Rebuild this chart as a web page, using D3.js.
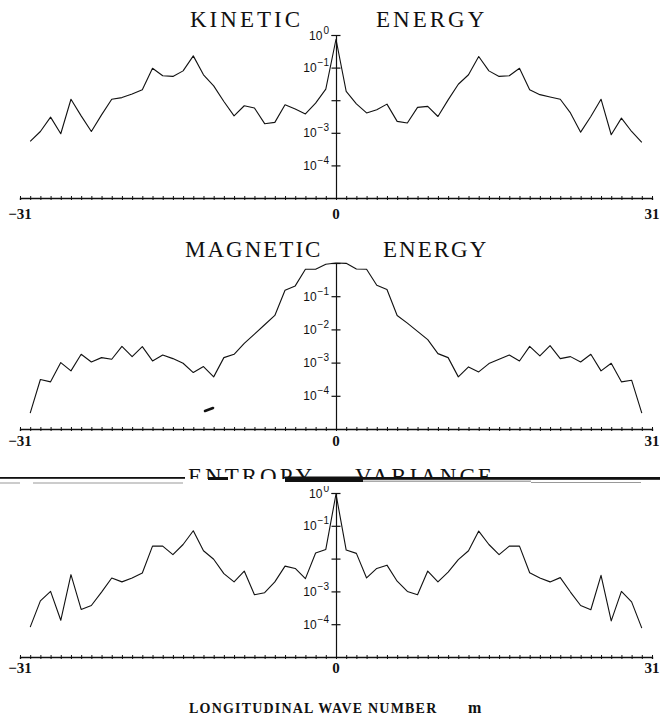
<!DOCTYPE html>
<html lang="en">
<head>
<meta charset="utf-8">
<title>Spectra vs longitudinal wave number</title>
<script src="https://cdn.jsdelivr.net/npm/d3@7"></script>
<style>
  body { margin: 0; background: #fff; }
  svg { display: block; }
</style>
</head>
<body>
<div id="chart"></div>
<script type="text/javascript">

// wave numbers m = -30 .. 30 (axis runs -31 .. 31)
var waveNumbers = d3.range(-30, 31);

// log10 of the spectral values, m = -30 .. 30
var kineticExp = [
  -3.26, -2.96, -2.52, -3.03, -1.97, -2.48, -2.96, -2.45, -1.97, -1.92,
  -1.81, -1.68, -1.02, -1.25, -1.27, -1.10, -0.64, -1.22, -1.56, -2.04,
  -2.48, -2.17, -2.24, -2.72, -2.68, -2.14, -2.27, -2.42, -2.09, -1.66,
  -0.13,
  -1.73, -2.11, -2.39, -2.29, -2.12, -2.65, -2.70, -2.22, -2.19, -2.50,
  -1.99, -1.51, -1.22, -0.66, -1.10, -1.27, -1.25, -1.02, -1.68, -1.83,
  -1.90, -1.97, -2.39, -2.98, -2.50, -1.97, -3.06, -2.55, -2.96, -3.29
];
var magneticExp = [
  -4.52, -3.51, -3.58, -3.00, -3.25, -2.75, -2.98, -2.85, -2.90, -2.51,
  -2.82, -2.52, -2.95, -2.77, -2.88, -3.02, -3.30, -3.12, -3.43, -2.85,
  -2.75, -2.42, -2.14, -1.86, -1.58, -0.82, -0.69, -0.19, -0.19, -0.04,
  0.00,
  -0.01, -0.18, -0.19, -0.67, -0.80, -1.58, -1.81, -2.06, -2.31, -2.73,
  -2.85, -3.43, -3.13, -3.28, -3.03, -2.90, -2.77, -2.95, -2.51, -2.80,
  -2.49, -2.88, -2.82, -2.98, -2.75, -3.25, -3.02, -3.58, -3.53, -4.52
];
var entropyExp = [
  -4.09, -3.29, -3.00, -3.88, -2.49, -3.55, -3.43, -3.02, -2.59, -2.71,
  -2.59, -2.44, -1.62, -1.62, -1.88, -1.57, -1.15, -1.76, -2.02, -2.46,
  -2.71, -2.38, -3.10, -3.04, -2.71, -2.23, -2.30, -2.61, -1.83, -1.72,
  -0.03,
  -1.74, -1.84, -2.59, -2.30, -2.20, -2.69, -3.00, -3.10, -2.38, -2.71,
  -2.41, -2.03, -1.76, -1.16, -1.57, -1.88, -1.62, -1.62, -2.43, -2.59,
  -2.71, -2.58, -3.02, -3.43, -3.56, -2.51, -3.90, -3.00, -3.32, -4.12
];

// titles and labelled decades for each panel
var panelTitles = [["KINETIC", "ENERGY"], ["MAGNETIC", "ENERGY"], ["ENTROPY", "VARIANCE"]];
var labelledExps = [[0, -1, -3, -4], [-1, -2, -3, -4], [0, -1, -3, -4]];
var decadeTicks = [1, 1e-1, 1e-2, 1e-3, 1e-4];
var xLabels = [-31, 0, 31];
var xAxisTitle = "LONGITUDINAL WAVE NUMBER";

//////////////////////////////////////
// layout
var width = 660, height = 721;
var layout = [
  { top: 35,  bottom: 198, titleY: 27,  titleX: [190, 376], labelDy: 21 },
  { top: 263, bottom: 429, titleY: 257, titleX: [185, 383], labelDy: 17 },
  { top: 493, bottom: 657, titleY: 484, titleX: [188, 355], labelDy: 16 }
];
var series = [kineticExp, magneticExp, entropyExp];

var svg = d3.select("#chart").append("svg")
    .attr("width", width).attr("height", height);
svg.append("rect").attr("width", width).attr("height", height).attr("fill", "#fff");

var x = d3.scaleLinear().domain([-31, 31]).range([20, 652]);

layout.forEach(function(p, i) {
  var g = svg.append("g");
  var y = d3.scaleLog().domain([1e-5, 1]).range([p.bottom, p.top]);

  // title words
  g.selectAll(".title").data(panelTitles[i]).enter().append("text")
      .attr("x", function(d, j) { return p.titleX[j]; })
      .attr("y", p.titleY)
      .attr("font-family", "Liberation Serif, Times New Roman, serif")
      .attr("font-size", 23)
      .attr("letter-spacing", i == 1 ? 2 : 3)
      .attr("fill", "#111")
      .text(function(d) { return d; });

  // x axis with a small cross tick at every integer m
  var xAxis = g.append("g")
      .attr("transform", "translate(0," + p.bottom + ")")
      .call(d3.axisBottom(x).tickValues(d3.range(-31, 32)).tickFormat("").tickSizeOuter(0).tickSize(2));
  xAxis.select(".domain").attr("stroke", "#111").attr("stroke-width", 1.4);
  xAxis.selectAll(".tick line").attr("y1", -2).attr("stroke", "#111").attr("stroke-width", 1);

  g.selectAll(".xlab").data(xLabels).enter().append("text")
      .attr("x", function(d) { return x(d); })
      .attr("y", p.bottom + p.labelDy)
      .attr("text-anchor", "middle")
      .attr("font-family", "Liberation Serif, Times New Roman, serif")
      .attr("font-weight", "bold")
      .attr("font-size", 15)
      .attr("fill", "#111")
      .text(function(d) { return d < 0 ? "\u2212" + Math.abs(d) : d; });

  // y axis through m = 0
  var yAxis = g.append("g")
      .attr("transform", "translate(" + x(0) + ",0)")
      .call(d3.axisLeft(y).tickValues(decadeTicks).tickFormat("").tickSizeOuter(0).tickSize(4.5));
  yAxis.select(".domain").attr("stroke", "#111").attr("stroke-width", 1.2);
  yAxis.selectAll(".tick line").attr("x1", 4.5).attr("stroke", "#111").attr("stroke-width", 1.2);

  var lab = g.selectAll(".ylab").data(labelledExps[i]).enter().append("text")
      .attr("x", x(0) - 7)
      .attr("y", function(d) { return y(Math.pow(10, d)) + 4.5; })
      .attr("text-anchor", "end")
      .attr("font-family", "Liberation Sans, Arial, sans-serif")
      .attr("font-size", 12)
      .attr("fill", "#111");
  lab.append("tspan").text("10");
  lab.append("tspan")
      .attr("dx", 1).attr("dy", -6).attr("font-size", 10)
      .text(function(d) { return d < 0 ? "\u2212" + Math.abs(d) : d; });

  // spectrum
  var line = d3.line()
      .x(function(d, k) { return x(waveNumbers[k]); })
      .y(function(d) { return y(Math.pow(10, d)); });
  g.append("path")
      .datum(series[i])
      .attr("d", line)
      .attr("fill", "none")
      .attr("stroke", "#111")
      .attr("stroke-width", 1.1)
      .attr("stroke-linejoin", "round");
});

// bottom axis title
var tg = svg.append("g")
    .attr("font-family", "Liberation Serif, Times New Roman, serif")
    .attr("font-weight", "bold")
    .attr("font-size", 14)
    .attr("fill", "#111");
tg.append("text").attr("x", 189).attr("y", 713).attr("letter-spacing", 1.2).text(xAxisTitle);
tg.append("text").attr("x", 468).attr("y", 713).attr("font-size", 16).text("m");

//////////////////////////////////////
// scan damage across the third title
var scar = svg.append("g");
scar.append("rect").attr("x", 0).attr("y", 479).attr("width", width).attr("height", 7).attr("fill", "#fff");
scar.append("rect").attr("x", 0).attr("y", 477).attr("width", 185).attr("height", 1.8).attr("fill", "#111");
scar.append("rect").attr("x", 0).attr("y", 482.5).attr("width", 20).attr("height", 1).attr("fill", "#999");
scar.append("rect").attr("x", 33).attr("y", 482.5).attr("width", 150).attr("height", 1).attr("fill", "#999");
scar.append("rect").attr("x", 208).attr("y", 477).attr("width", 20).attr("height", 3).attr("fill", "#111");
scar.append("rect").attr("x", 285).attr("y", 476.5).attr("width", 78).attr("height", 5.5).attr("fill", "#111");
scar.append("rect").attr("x", 363).attr("y", 477).attr("width", 297).attr("height", 2.8).attr("fill", "#111");
scar.append("rect").attr("x", 363).attr("y", 480.5).attr("width", 168).attr("height", 1.5).attr("fill", "#aaa");
scar.append("rect").attr("x", 531).attr("y", 482).attr("width", 110).attr("height", 1).attr("fill", "#999");

// stray pen mark in the magnetic panel
svg.append("line")
    .attr("x1", 205).attr("y1", 411).attr("x2", 213).attr("y2", 408)
    .attr("stroke", "#111").attr("stroke-width", 2.5).attr("stroke-linecap", "round");

</script>
</body>
</html>
